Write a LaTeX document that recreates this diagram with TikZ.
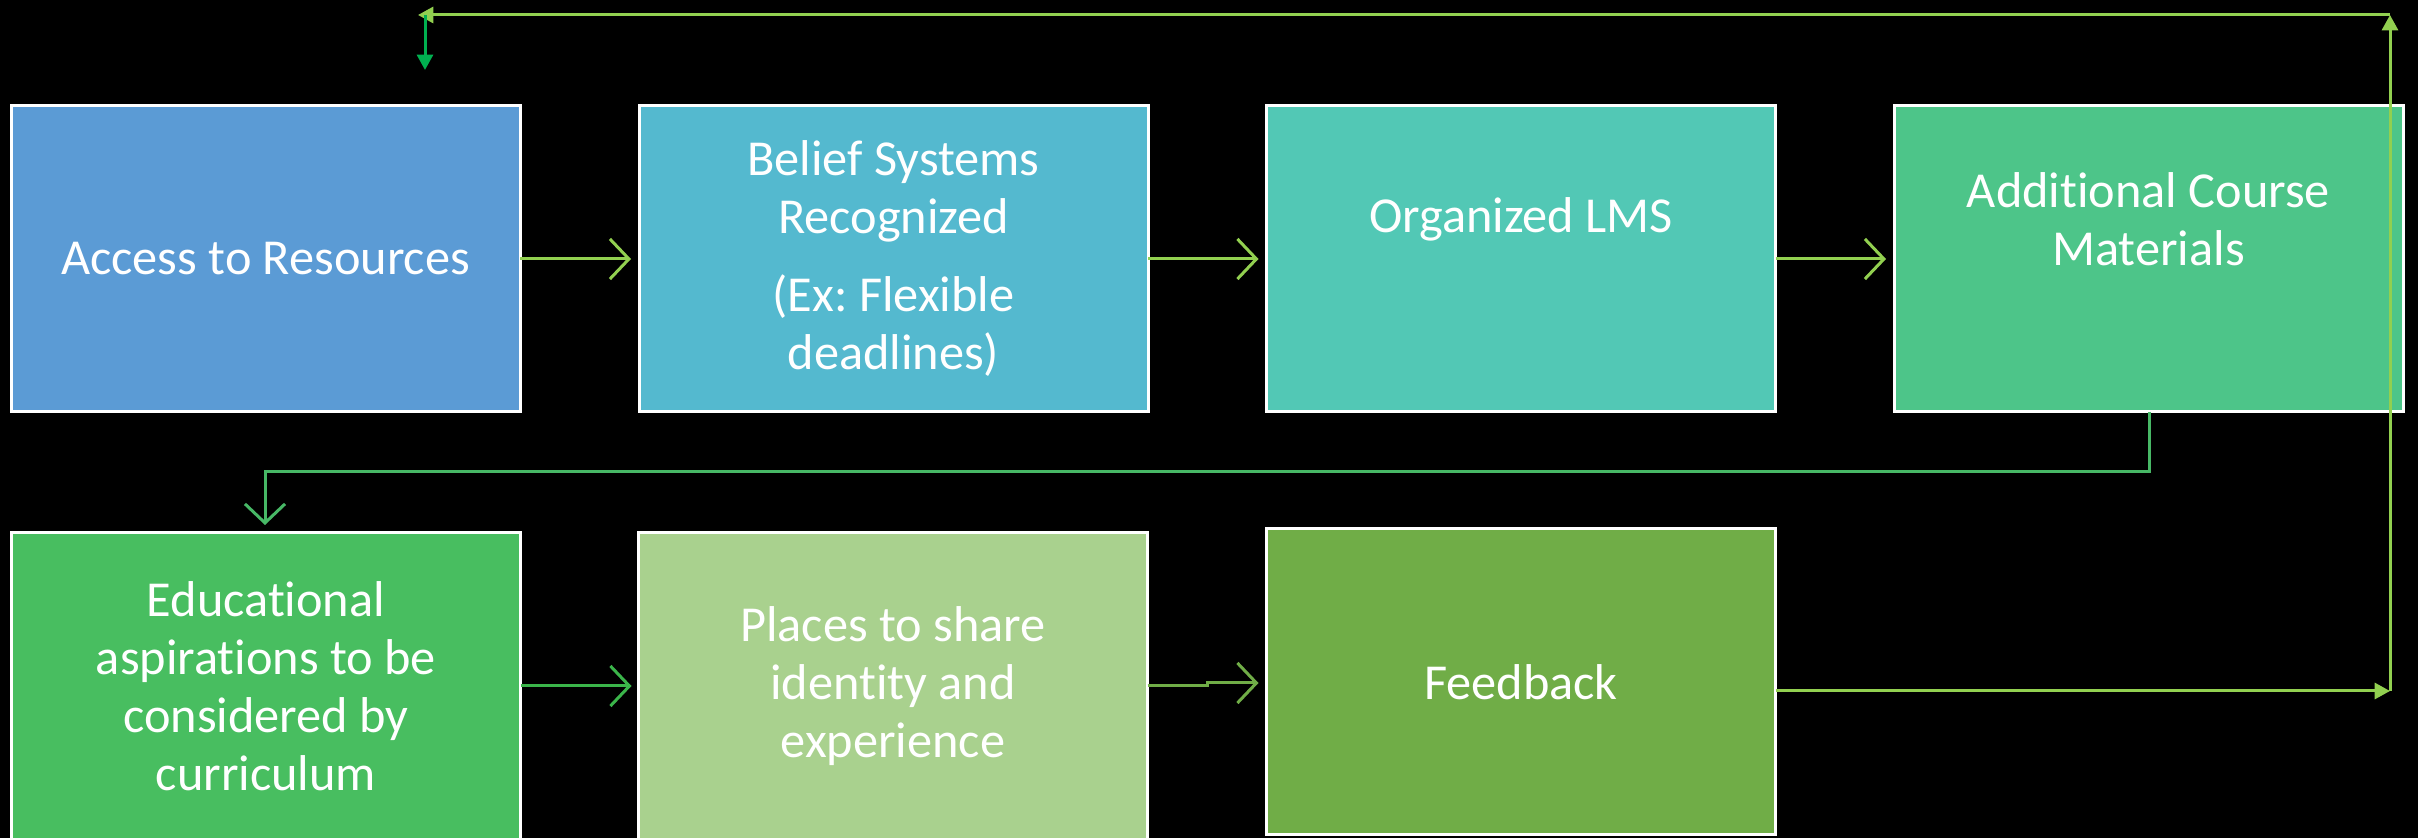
\documentclass[tikz,border=0pt]{standalone}
\usepackage{fontspec}
\setmainfont{Carlito}[Ligatures={NoCommon}]
\usetikzlibrary{arrows.meta}
\definecolor{cA}{HTML}{5B9BD5}
\definecolor{cB}{HTML}{54B9CF}
\definecolor{cC}{HTML}{52C8B5}
\definecolor{cD}{HTML}{4DC589}
\definecolor{cE}{HTML}{48BE60}
\definecolor{cF}{HTML}{A9D18E}
\definecolor{cG}{HTML}{70AD47}
\definecolor{lgreen}{HTML}{92D050}
\definecolor{mgreen}{HTML}{47B866}
\definecolor{ggreen}{HTML}{3BB54A}
\definecolor{dgreen}{HTML}{70AD47}
\definecolor{bgreen}{HTML}{00B050}
\begin{document}
\frenchspacing
\begin{tikzpicture}[x=0.3pt,y=-0.3pt,
  box/.style={draw=white, line width=0.9pt, inner sep=0pt, outer sep=0pt,
    text=white, align=center, font=\fontsize{15.1pt}{17.4pt}\selectfont,
    minimum width=152.7pt, minimum height=91.8pt},
  lowbox/.style={box, minimum height=92.1pt},
  boxtext/.style={text=white, align=center, inner sep=0pt, font=\fontsize{15.1pt}{17.4pt}\selectfont},
  conn/.style={line width=0.9pt, -{Straight Barb[length=5.7pt,width=12pt]}},
  fconn/.style={line width=0.9pt, -{Triangle[length=4.6pt,width=4.8pt]}}]
\fill[black] (0,0) rectangle (2418,838);
\useasboundingbox (0,0) rectangle (2418,838);

\node[box, fill=cA] (b1) at (265.5,259) {Access to Resources};
\node[box, fill=cB] (b2) at (893.5,259) {Belief Systems\\Recognized\\[6pt](Ex: Flexible\\deadlines)};
\node[box, fill=cC] (b3) at (1521,259) {};
\node[box, fill=cD] (b4) at (2148.5,259) {};
\node[boxtext] (t3) at (1521,219) {Organized LMS};
\node[boxtext] (t4) at (2148.5,219) {Additional Course\\Materials};

\node[lowbox, fill=cE] (b5) at (266,686.5) {Educational\\aspirations to be\\considered by\\curriculum};
\node[lowbox, fill=cF] (b6) at (893,686.5) {Places to share\\identity and\\experience};
\node[box, fill=cG] (b7) at (1521,682) {Feedback};

% top row connectors
\draw[conn, lgreen] (b1.east) -- ([xshift=-2.4pt]b2.west);
\draw[conn, lgreen] (b2.east) -- ([xshift=-2.4pt]b3.west);
\draw[conn, lgreen] (b3.east) -- ([xshift=-2.4pt]b4.west);

% row change
\coordinate (d1) at (2149,472);
\coordinate (d2) at (265,472);
\draw[conn, mgreen] (b4.south -| d1) -- (d1) -- (d2) -- ([yshift=2.4pt]b5.north -| d2);

% bottom row
\draw[conn, ggreen] (b5.east |- 0,686) -- ([xshift=-2.1pt]b6.west |- 0,686);
\coordinate (j1) at (1207,686);
\coordinate (j2) at (1207,683);
\draw[conn, dgreen] (b6.east |- j1) -- (j1) -- (j2) -- ([xshift=-2.4pt]b7.west |- j2);

% feedback loop
\coordinate (r1) at (2390,691);
\coordinate (r2) at (2390,15);
\coordinate (r3) at (418,15);
\coordinate (s1) at (425,15);
\coordinate (s2) at (425,70);
\draw[fconn, lgreen] (b7.east |- r1) -- (r1);
\draw[fconn, lgreen] (r1) -- (r2);
\draw[fconn, lgreen] (r2) -- (r3);
\draw[fconn, bgreen] (s1) -- (s2);
\end{tikzpicture}
\end{document}
